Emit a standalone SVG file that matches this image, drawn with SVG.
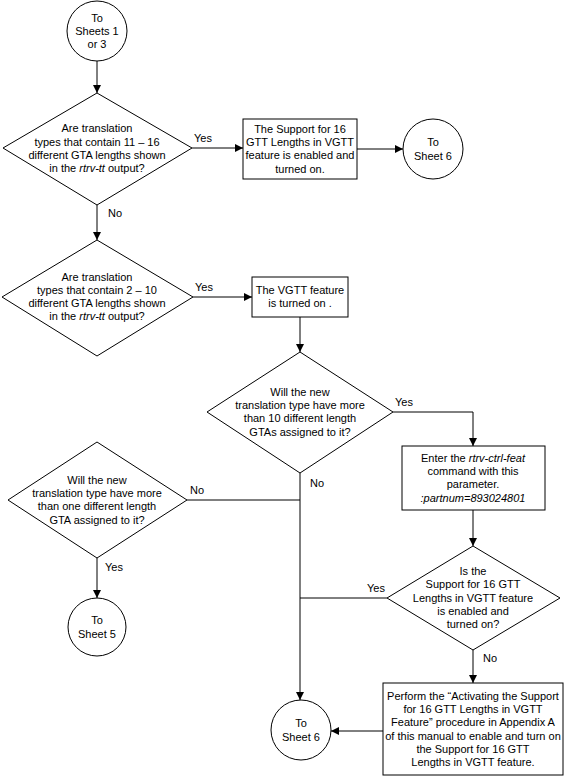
<svg xmlns="http://www.w3.org/2000/svg" width="565" height="776" viewBox="0 0 565 776">
<style>
.s{fill:#fff;stroke:#000;stroke-width:1}
.c{fill:none;stroke:#000;stroke-width:1}
text{font-family:"Liberation Sans",Arial,sans-serif;font-size:11px;fill:#000}
.m{text-anchor:middle}
.i{font-style:italic}
</style>
<defs>
<marker id="a" viewBox="0 0 10 10" refX="10" refY="5" markerWidth="8" markerHeight="8" markerUnits="userSpaceOnUse" orient="auto">
<path d="M0,0 L10,5 L0,10 z" fill="#000"/>
</marker>
</defs>
<rect width="565" height="776" fill="#fff"/>
<g id="connectors">
<path class="c" d="M97,61 V93" marker-end="url(#a)"/>
<path class="c" d="M192,148 H243" marker-end="url(#a)"/>
<path class="c" d="M357,149 H403" marker-end="url(#a)"/>
<path class="c" d="M97,205 V240" marker-end="url(#a)"/>
<path class="c" d="M193,297 H252" marker-end="url(#a)"/>
<path class="c" d="M300,317 V352" marker-end="url(#a)"/>
<path class="c" d="M393,412 H473 V446" marker-end="url(#a)"/>
<path class="c" d="M300,473 V700" marker-end="url(#a)"/>
<path class="c" d="M187,500 H300"/>
<path class="c" d="M97,558 V598" marker-end="url(#a)"/>
<path class="c" d="M473,510 V546" marker-end="url(#a)"/>
<path class="c" d="M387,598 H300"/>
<path class="c" d="M473,650 V683" marker-end="url(#a)"/>
<path class="c" d="M383,731 H331" marker-end="url(#a)"/>
<text x="194" y="142">Yes</text>
<text x="108" y="217">No</text>
<text x="195" y="291">Yes</text>
<text x="395" y="406">Yes</text>
<text x="310" y="487">No</text>
<text x="190" y="494">No</text>
<text x="105" y="571">Yes</text>
<text x="367" y="592">Yes</text>
<text x="483" y="662">No</text>
</g>
<g id="start">
<circle class="s" cx="97" cy="31" r="30"/>
<text class="m" x="97" y="22">To</text>
<text class="m" x="97" y="35">Sheets 1</text>
<text class="m" x="97" y="48">or 3</text>
</g>
<g id="d1">
<polygon class="s" points="97,93 192,148 97,205 3,148"/>
<text class="m" x="97" y="132">Are translation</text>
<text class="m" x="97" y="146">types that contain 11 – 16</text>
<text class="m" x="97" y="159">different GTA lengths shown</text>
<text class="m" x="97" y="172">in the <tspan class="i">rtrv-tt</tspan> output?</text>
</g>
<g id="b1">
<rect class="s" x="243" y="119" width="114" height="60"/>
<text class="m" x="300" y="133">The Support for 16</text>
<text class="m" x="300" y="146">GTT Lengths in VGTT</text>
<text class="m" x="300" y="159">feature is enabled and</text>
<text class="m" x="300" y="173">turned on.</text>
</g>
<g id="c6a">
<circle class="s" cx="433" cy="149" r="30"/>
<text class="m" x="433" y="146">To</text>
<text class="m" x="433" y="160">Sheet 6</text>
</g>
<g id="d2">
<polygon class="s" points="97,240 193,297 97,356 2,297"/>
<text class="m" x="97" y="281">Are translation</text>
<text class="m" x="97" y="294">types that contain 2 – 10</text>
<text class="m" x="97" y="307">different GTA lengths shown</text>
<text class="m" x="97" y="320">in the <tspan class="i">rtrv-tt</tspan> output?</text>
</g>
<g id="b2">
<rect class="s" x="252" y="277" width="96" height="40"/>
<text class="m" x="300" y="294">The VGTT feature</text>
<text class="m" x="300" y="307">is turned on .</text>
</g>
<g id="d3">
<polygon class="s" points="300,352 393,412 300,473 207,412"/>
<text class="m" x="300" y="396">Will the new</text>
<text class="m" x="300" y="409">translation type have more</text>
<text class="m" x="300" y="422">than 10 different length</text>
<text class="m" x="300" y="436">GTAs assigned to it?</text>
</g>
<g id="b3">
<rect class="s" x="402" y="446" width="143" height="64"/>
<text class="m" x="473" y="462">Enter the <tspan class="i">rtrv-ctrl-feat</tspan></text>
<text class="m" x="473" y="475">command with this</text>
<text class="m" x="473" y="488">parameter.</text>
<text class="m i" x="473" y="502">:partnum=893024801</text>
</g>
<g id="d4">
<polygon class="s" points="97,442 187,500 97,558 8,500"/>
<text class="m" x="97" y="484">Will the new</text>
<text class="m" x="97" y="497">translation type have more</text>
<text class="m" x="97" y="510">than one different length</text>
<text class="m" x="97" y="524">GTA assigned to it?</text>
</g>
<g id="c5">
<circle class="s" cx="97" cy="627" r="29"/>
<text class="m" x="97" y="624">To</text>
<text class="m" x="97" y="638">Sheet 5</text>
</g>
<g id="d5">
<polygon class="s" points="473,546 560,598 473,650 387,598"/>
<text class="m" x="473" y="575">Is the</text>
<text class="m" x="473" y="588">Support for 16 GTT</text>
<text class="m" x="473" y="602">Lengths in VGTT feature</text>
<text class="m" x="473" y="615">is enabled and</text>
<text class="m" x="473" y="628">turned on?</text>
</g>
<g id="b4">
<rect class="s" x="383" y="683" width="180" height="92"/>
<text class="m" x="473" y="700">Perform the “Activating the Support</text>
<text class="m" x="473" y="713">for 16 GTT Lengths in VGTT</text>
<text class="m" x="473" y="726">Feature” procedure in Appendix A</text>
<text class="m" x="473" y="740">of this manual to enable and turn on</text>
<text class="m" x="473" y="753">the Support for 16 GTT</text>
<text class="m" x="473" y="766">Lengths in VGTT feature.</text>
</g>
<g id="c6b">
<circle class="s" cx="301" cy="730" r="30"/>
<text class="m" x="301" y="727">To</text>
<text class="m" x="301" y="741">Sheet 6</text>
</g>
</svg>
